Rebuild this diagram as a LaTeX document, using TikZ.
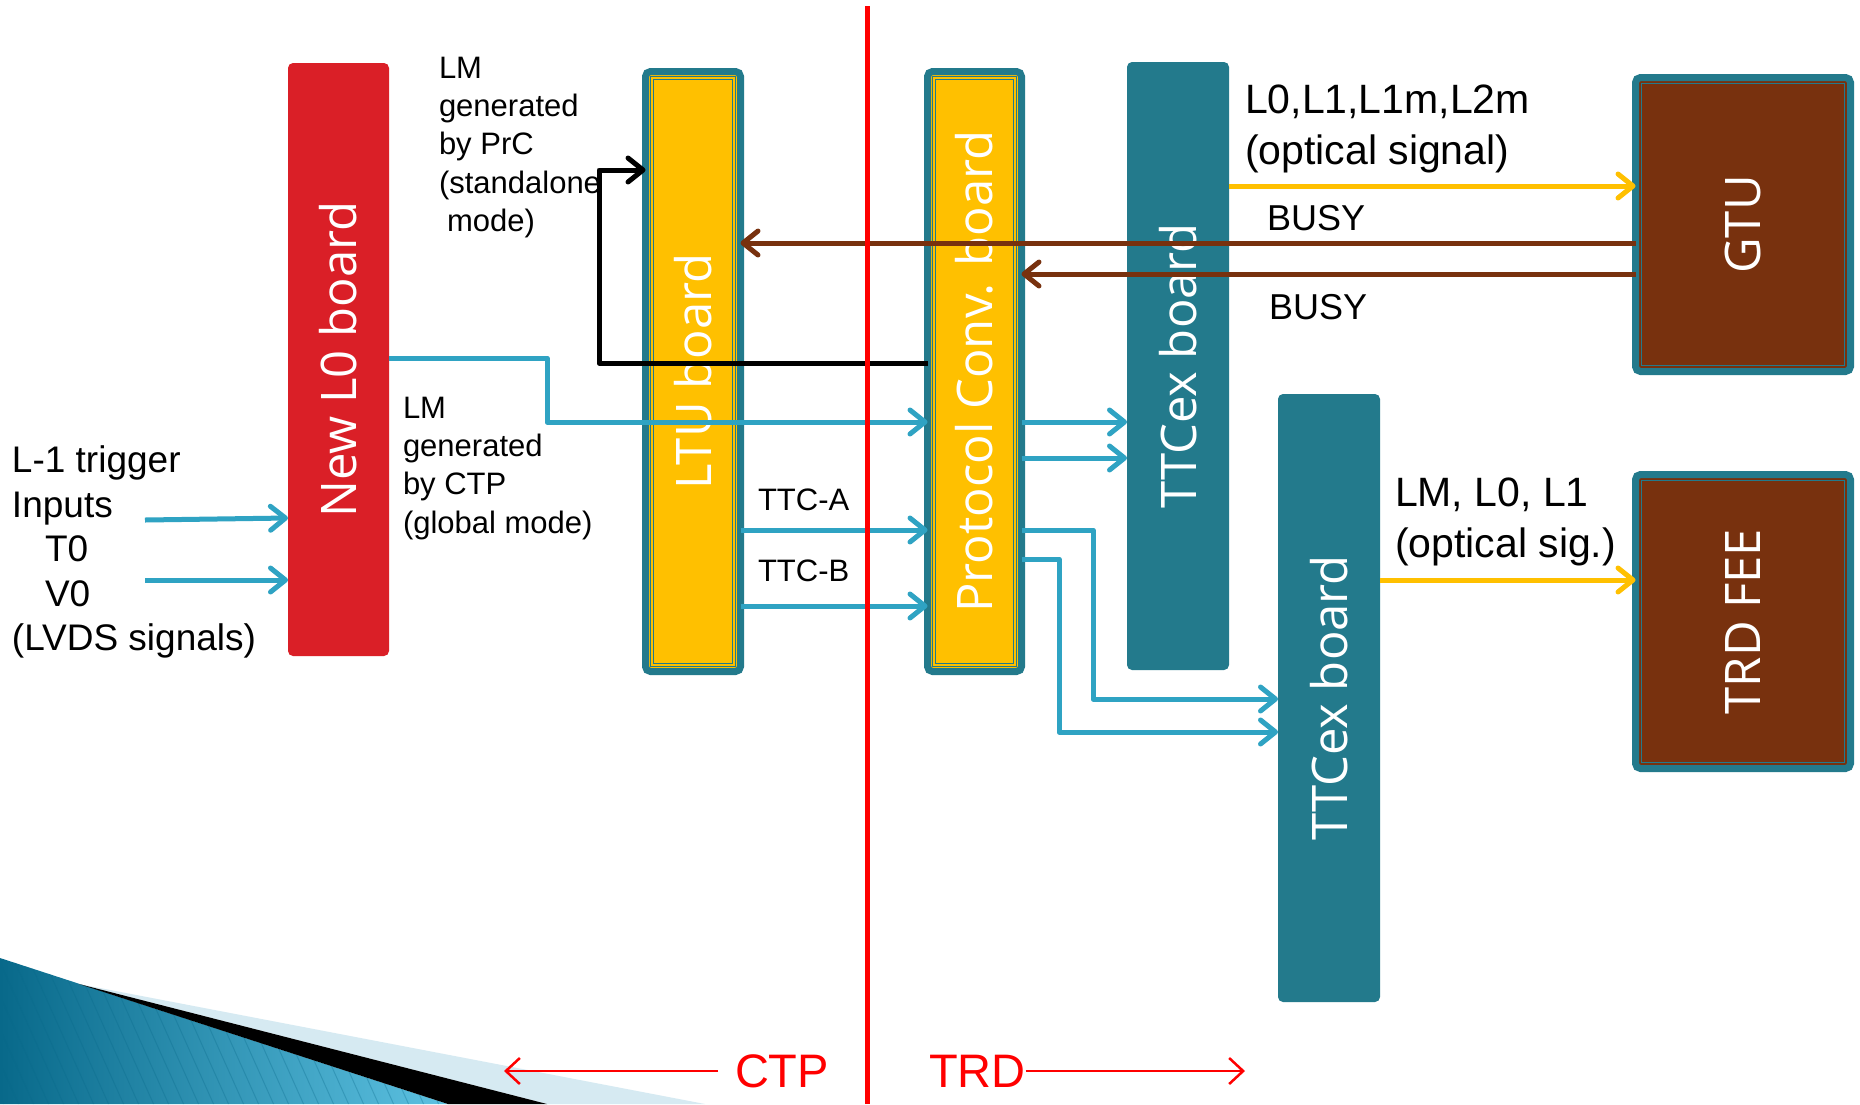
\documentclass[tikz,border=0pt]{standalone}
\usepackage{fontspec}
\setmainfont{Liberation Sans}
\newfontfamily\boardfont{Open Sans}
\usetikzlibrary{arrows.meta}
\definecolor{tealc}{HTML}{237A8C}
\definecolor{cyanc}{HTML}{2FA3C3}
\definecolor{goldc}{HTML}{FFC000}
\definecolor{brownc}{HTML}{78310E}
\definecolor{redbrd}{HTML}{DA1F27}
\definecolor{redline}{HTML}{FF0000}
\definecolor{swdark}{HTML}{08698A}
\definecolor{swlight}{HTML}{5DC2E2}
\definecolor{swpale}{HTML}{D6EAF2}
\newcommand\innerframe[3]{%
  \draw[#3, line width=1.3pt] ([shift={(#2,#2)}]#1.north west) rectangle ([shift={(-#2,-#2)}]#1.south east);}
\begin{document}
\begin{tikzpicture}[x=1pt,y=-1pt,
  every node/.style={inner sep=0pt, outer sep=0pt},
  plainbox/.style={fill=#1, rounded corners=5pt},
  framebox/.style={fill=#1, draw=tealc, line width=7pt, rounded corners=5pt},
  boardtext/.style={text=white, font=\boardfont\fontsize{49}{59}\selectfont, rotate=90},
  lbl/.style={font=\fontsize{31}{38.3}\selectfont, align=left, anchor=north west},
  biglbl/.style={font=\fontsize{41}{50.5}\selectfont, align=left, anchor=north west},
  busylbl/.style={font=\fontsize{36}{43}\selectfont, anchor=north west},
  sigline/.style={line width=5pt, line join=round, -{Straight Barb[length=15pt,width=24pt,line width=5pt,round]}},
  cy/.style={sigline, draw=cyanc},
  blk/.style={sigline, draw=black},
  gold/.style={sigline, draw=goldc},
  busy/.style={sigline, draw=brownc},
  sidearrow/.style={draw=redline, line width=2.8pt, -{Straight Barb[length=14pt,width=26pt,line width=2.5pt]}},
  sidelbl/.style={font=\fontsize{47}{56}\selectfont, text=redline}
]
\useasboundingbox (0,0) rectangle (1860,1104);
\fill[white] (0,0) rectangle (1860,1104);

% corner decoration
\shade[left color=swdark, right color=swlight] (0,958) -- (448,1104) -- (0,1104) -- cycle;
\begin{scope}
  \clip (0,958) -- (448,1104) -- (0,1104) -- cycle;
  \foreach \sx in {-160,-145,...,460}
    \draw[swdark, opacity=0.3, line width=1pt] (\sx,940) -- ++(74,165);
\end{scope}
\fill[swpale] (79,984) -- (705,1104) -- (547,1104) -- cycle;
\fill[black] (79,984) -- (547,1104) -- (448,1104) -- cycle;

% boards
\node[plainbox=redbrd, minimum width=101pt, minimum height=593pt] (L0) at (338.5,359.5) {};
\node[framebox=goldc, minimum width=95pt, minimum height=600pt] (LTU) at (693,371.5) {};
\node[framebox=goldc, minimum width=94pt, minimum height=600pt] (PC) at (974.5,371.5) {};
\node[plainbox=tealc, minimum width=102pt, minimum height=608pt] (TT1) at (1178,366) {};
\node[plainbox=tealc, minimum width=102pt, minimum height=608pt] (TT2) at (1329,698) {};
\node[framebox=brownc, minimum width=215pt, minimum height=294pt] (GTU) at (1743,224.5) {};
\node[framebox=brownc, minimum width=215pt, minimum height=294pt] (FEE) at (1743,621.5) {};
\innerframe{LTU}{5.3}{tealc}\innerframe{LTU}{8.2}{tealc}
\innerframe{PC}{5.3}{tealc}\innerframe{PC}{8.2}{tealc}
\innerframe{GTU}{6}{tealc}
\innerframe{FEE}{6}{tealc}

\node[boardtext] (L0t) at (L0.center) {New L0 board};
\node[boardtext] (LTUt) at (LTU.center) {LTU board};
\node[boardtext] (PCt) at (PC.center) {Protocol Conv. board};
\node[boardtext] (TT1t) at (TT1.center) {TTCex board};
\node[boardtext] (TT2t) at (TT2.center) {TTCex board};
\node[boardtext] (GTUt) at (GTU.center) {GTU};
\node[boardtext] (FEEt) at (FEE.center) {TRD FEE};

% connectors
\coordinate (inA) at (145,520);
\coordinate (inB) at (145,580);
\draw[cy] (inA) -- (L0.west |- 0,518);
\draw[cy] (inB) -- (L0.west |- 0,580);
\draw[cy] (L0.east |- 0,358) -- (547,358) -- (547,422) -- (PC.west |- 0,422);
\draw[blk] (PC.west |- 0,363) -- (599,363) -- (599,170) -- (LTU.west |- 0,170);
\draw[cy] (LTU.east |- 0,530) -- (PC.west |- 0,530);
\draw[cy] (LTU.east |- 0,606) -- (PC.west |- 0,606);
\draw[cy] (PC.east |- 0,422) -- (TT1.west |- 0,422);
\draw[cy] (PC.east |- 0,458) -- (TT1.west |- 0,458);
\draw[cy] (PC.east |- 0,530) -- (1093,530) -- (1093,699) -- (TT2.west |- 0,699);
\draw[cy] (PC.east |- 0,559) -- (1059,559) -- (1059,732) -- (TT2.west |- 0,732);
\draw[gold] (TT1.east |- 0,186) -- (GTU.west |- 0,186);
\draw[busy] (GTU.west |- 0,243) -- (LTU.east |- 0,243);
\draw[busy] (GTU.west |- 0,274) -- (PC.east |- 0,274);
\draw[gold] (TT2.east |- 0,580) -- (FEE.west |- 0,580);

% labels
\node[lbl] (prc) at (439,57) {LM\\generated\\by PrC\\(standalone\\\hspace*{8pt}mode)};
\node[lbl] (ctpg) at (403,397) {LM\\generated\\by CTP\\(global mode)};
\node[font=\fontsize{37}{44.5}\selectfont, align=left, anchor=north west] (inputs) at (12,446)
  {L-1 trigger\\Inputs\\\hspace*{33pt}T0\\\hspace*{33pt}V0\\(LVDS signals)};
\node[lbl] (ttca) at (758,489) {TTC-A};
\node[lbl] (ttcb) at (758,560) {TTC-B};
\node[busylbl] (busy1) at (1267,205) {BUSY};
\node[busylbl] (busy2) at (1269,294) {BUSY};
\node[biglbl] (opt1) at (1245,85) {L0,L1,L1m,L2m\\(optical signal)};
\node[biglbl] (opt2) at (1395,478) {LM, L0, L1\\(optical sig.)};

% CTP / TRD
\node[sidelbl, anchor=west] (ctp) at (735,1071) {CTP};
\node[sidelbl, anchor=west] (trd) at (929,1071) {TRD};
\coordinate (ctpend) at (504,1071);
\coordinate (trdend) at (1245,1071);
\draw[sidearrow] ([xshift=-17pt]ctp.west) -- (ctpend);
\draw[sidearrow] (trd.east) -- (trdend);

% divider
\draw[redline, line width=5pt] (867,6) -- (867,1104);
\end{tikzpicture}
\end{document}
